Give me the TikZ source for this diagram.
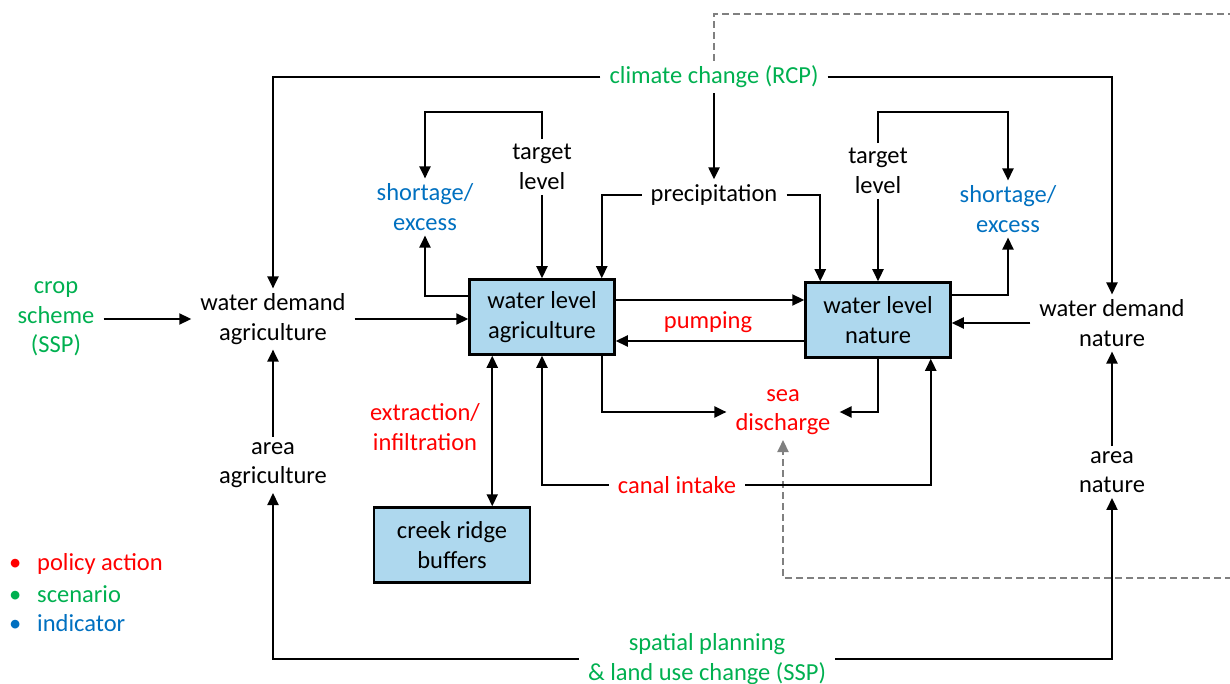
\documentclass[tikz,border=0pt]{standalone}
\usepackage{fontspec}
\setmainfont{Carlito}
\usetikzlibrary{arrows.meta,calc}
\definecolor{scen}{RGB}{0,176,80}
\definecolor{pol}{RGB}{255,0,0}
\definecolor{ind}{RGB}{0,112,192}
\definecolor{boxblue}{RGB}{174,216,238}
\definecolor{dashgray}{RGB}{128,128,128}
\begin{document}
\begin{tikzpicture}[x=1pt,y=-1pt,
    every node/.style={align=center,inner xsep=9pt,inner ysep=5pt,font=\fontsize{24.5}{29.5}\selectfont},
    blok/.style={draw,line width=2.5pt,fill=boxblue,minimum width=145pt,minimum height=75pt},
    arr/.style={line width=2.2pt,-{Triangle[length=12pt,width=11pt]}},
    dbl/.style={line width=2.2pt,{Triangle[length=12pt,width=11pt]}-{Triangle[length=12pt,width=11pt]}},
    fb/.style={dashgray,line width=2.2pt,dash pattern=on 7pt off 4pt,-{Triangle[length=12pt,width=11pt]}}]
    \useasboundingbox (0,0) rectangle (1230,684);
    % scenarios
    \node[text=scen] (cc) at (714,77) {climate change (RCP)};
    \node[text=scen] (crop) at (56,319) {crop\\scheme\\(SSP)};
    \node[text=scen] (sp) at (707,659) {spatial planning\\\& land use change (SSP)};
    % system
    \node (prec) at (714,195) {precipitation};
    \node (tla) at (542,167) {target\\level};
    \node (tln) at (878,171) {target\\level};
    \node[text=ind] (sxa) at (425,207) {shortage/\\excess};
    \node[text=ind] (sxn) at (1008,209) {shortage/\\excess};
    \node[blok] (wla) at (542,317) {water level\\agriculture};
    \node[blok] (wln) at (878,320) {water level\\nature};
    \node[blok,minimum width=156pt] (crb) at (452,545) {creek ridge\\buffers};
    \node (wda) at (273,319) {water demand\\agriculture};
    \node (aa) at (273,465) {area\\agriculture};
    \node (wdn) at (1112,323) {water demand\\nature};
    \node (an) at (1112,472) {area\\nature};
    % policy actions
    \node[text=pol] (pump) at (708,322) {pumping};
    \node[text=pol] (sd) at (783,412) {sea\\discharge};
    \node[text=pol] (ci) at (677,485) {canal intake};
    \node[text=pol] (ext) at (425,427) {extraction/\\infiltration};
    % legend
    \node[text=pol,anchor=west] (lpol) at (0,564) {\makebox[28pt][l]{•}policy action};
    \node[text=scen,anchor=west] (lscen) at (0,594) {\makebox[28pt][l]{•}scenario};
    \node[text=ind,anchor=west] (lind) at (0,623) {\makebox[28pt][l]{•}indicator};

    \coordinate (exa) at ($(wla.south west)+(24,0)$);
    \draw[arr] (cc.west) -| (wda.north);
    \draw[arr] (cc.east) -| (wdn.north);
    \draw[arr] (cc.south) -- (prec.north);
    \draw[fb] (cc.north) -- (cc.north |- 0,14) -- (1245,14) -- (1245,578) -| (sd.south);
    \draw[arr] (prec.west) -| ($(wla.north east)+(-14,0)$);
    \draw[arr] (prec.east) -| ($(wln.north west)+(16,0)$);
    \draw[arr] (tla.north) -- (tla.north |- 0,112) -| (sxa.north);
    \draw[arr] (tla.south) -- (wla.north);
    \draw[arr] ($(wla.west)+(0,-21)$) -| (sxa.south);
    \draw[arr] (tln.north) -- (tln.north |- 0,112) -| (sxn.north);
    \draw[arr] (tln.south) -- (wln.north);
    \draw[arr] ($(wln.east)+(0,-25)$) -| (sxn.south);
    \draw[arr] (crop.east |- wda.west) -- (wda.west);
    \draw[arr] (wda.east) -- (wla.west |- wda.east);
    \draw[arr] (aa.north) -- (wda.south);
    \draw[arr] (sp.west) -| (aa.south);
    \draw[arr] (sp.east) -| (an.south);
    \draw[arr] (an.north) -- (wdn.south);
    \draw[arr] (wdn.west) -- (wln.east |- wdn.west);
    \draw[arr] (wla.east |- 0,300) -- (wln.west |- 0,300);
    \draw[arr] (wln.west |- 0,341) -- (wla.east |- 0,341);
    \draw[arr] ($(wla.south east)+(-14,0)$) |- (sd.west);
    \draw[arr] (wln.south) |- (sd.east);
    \draw[arr] (ci.east) -| ($(wln.south east)+(-21,0)$);
    \draw[arr] (ci.west) -| (wla.south);
    \draw[dbl] (exa) -- (exa |- crb.north);
\end{tikzpicture}
\end{document}
